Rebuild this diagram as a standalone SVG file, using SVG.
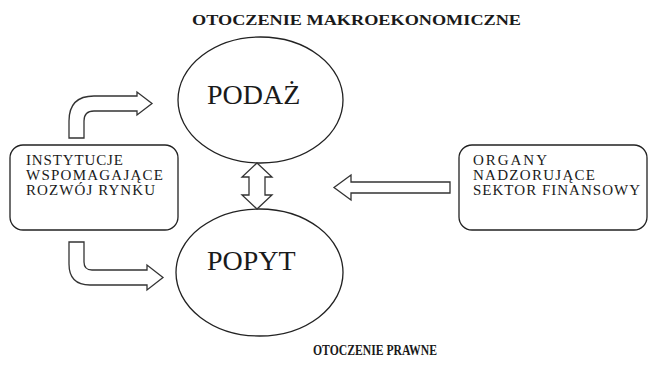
<svg xmlns="http://www.w3.org/2000/svg" width="650" height="376" viewBox="0 0 650 376">
<style>
.t{font-family:"Liberation Serif","Times New Roman",serif;fill:#1a1a1a}
.title{font-size:15px;font-weight:bold}
.big{font-size:28px}
.small{font-size:15px}
.shape{fill:#fff;stroke:#222;stroke-width:1.3}
.arr{fill:#fff;stroke:#333;stroke-width:1.3;stroke-linejoin:miter}
</style>
<rect width="650" height="376" fill="#fff"/>
<text class="t title" x="192" y="25" textLength="329" lengthAdjust="spacingAndGlyphs">OTOCZENIE MAKROEKONOMICZNE</text>
<text class="t title" x="313" y="355" textLength="124" lengthAdjust="spacingAndGlyphs">OTOCZENIE PRAWNE</text>
<g id="podaz">
<ellipse class="shape" cx="260.5" cy="100" rx="82.5" ry="63"/>
<text class="t big" x="207" y="104">PODAŻ</text>
</g>
<g id="popyt">
<ellipse class="shape" cx="259.5" cy="272.5" rx="83.5" ry="63.5"/>
<text class="t big" x="207" y="270">POPYT</text>
</g>
<g id="instytucje">
<rect class="shape" x="10" y="145" width="168" height="85" rx="13"/>
<text class="t small" x="26" y="165" textLength="97" lengthAdjust="spacing">INSTYTUCJE</text>
<text class="t small" x="26" y="180" textLength="137" lengthAdjust="spacing">WSPOMAGAJĄCE</text>
<text class="t small" x="26" y="195" textLength="129" lengthAdjust="spacing">ROZWÓJ RYNKU</text>
</g>
<g id="organy">
<rect class="shape" x="459" y="145" width="188" height="85" rx="13"/>
<text class="t small" x="473" y="165" textLength="74" lengthAdjust="spacing">ORGANY</text>
<text class="t small" x="473" y="180" textLength="122" lengthAdjust="spacing">NADZORUJĄCE</text>
<text class="t small" x="473" y="195" textLength="167" lengthAdjust="spacing">SEKTOR FINANSOWY</text>
</g>
<g id="connectors">
<path class="arr" d="M69,138 L69,121 Q69,96 94,96 L137,96 L137,92 L152,103.5 L137,115 L137,111 L94,111 Q84,111 84,121 L84,138 Z"/>
<path class="arr" d="M69,242 L69,264 Q69,285 90,285 L147,285 L147,290 L163,277.5 L147,265 L147,270 L92,270 Q84,270 84,262 L84,242 Z"/>
<path class="arr" d="M450,182 L351,182 L351,175 L334,187.5 L351,200 L351,193 L450,193 Z"/>
<path class="arr" d="M257,163 L272,177 L265,177 L265,195 L272,195 L257,209 L242,195 L249,195 L249,177 L242,177 Z"/>
</g>
</svg>
